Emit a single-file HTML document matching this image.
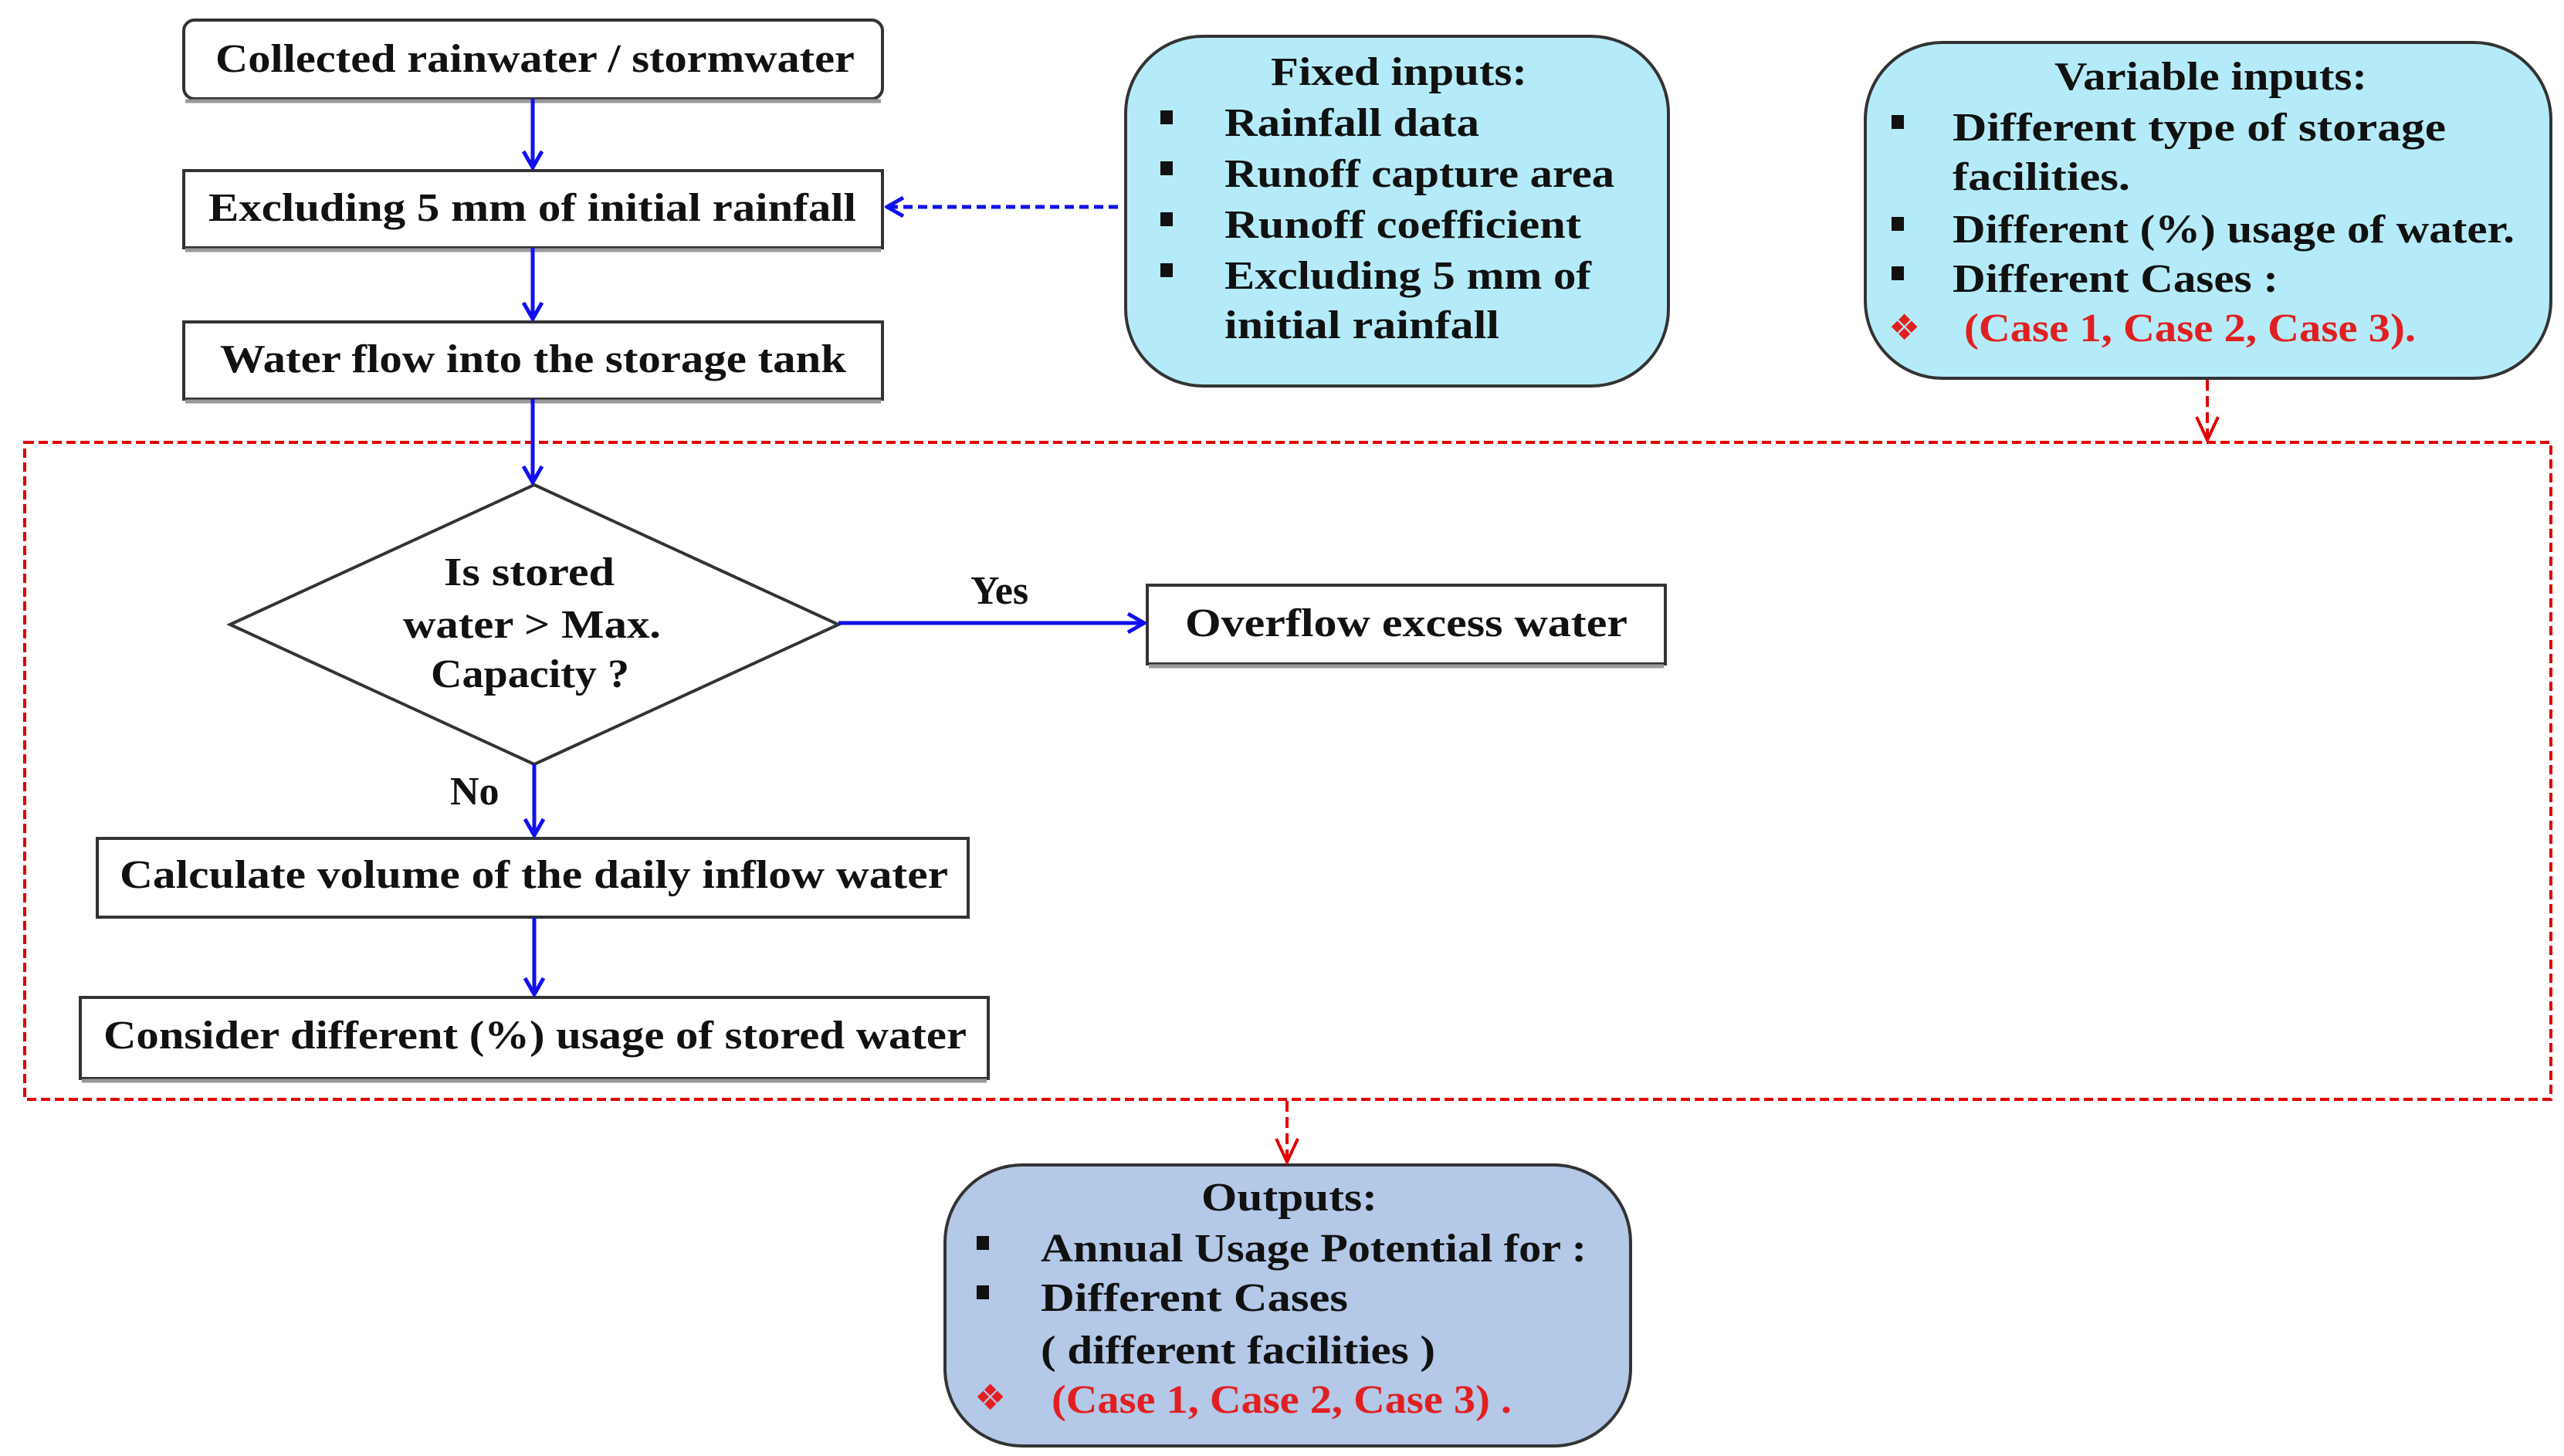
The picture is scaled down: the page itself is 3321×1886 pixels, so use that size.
<!DOCTYPE html>
<html><head><meta charset="utf-8"><style>html,body{margin:0;padding:0;background:#fff}svg{display:block}</style></head>
<body>
<svg width="3321" height="1886" viewBox="0 0 3321 1886" xmlns="http://www.w3.org/2000/svg" font-family="'Liberation Serif', serif" font-weight="bold" font-size="52">
<defs>
<marker id="ab" markerWidth="30" markerHeight="30" refX="27" refY="15" orient="auto" markerUnits="userSpaceOnUse" viewBox="0 0 30 30"><path d="M6,3 L27,15 L6,27" fill="none" stroke="#1010ee" stroke-width="5"/></marker>
</defs>
<g fill="#fff" stroke="#333" stroke-width="4">
<rect x="238" y="26" width="905" height="102" rx="14"/>
<rect x="238" y="221" width="905" height="100"/>
<rect x="238" y="417" width="905" height="100"/>
<rect x="1486" y="758" width="671" height="102"/>
<rect x="126" y="1086" width="1128" height="102"/>
<rect x="104" y="1292" width="1176" height="105"/>
<polygon points="298,809 692,628 1086,809 692,990"/>
</g>
<g stroke="#999" stroke-width="5">
<line x1="240" y1="131" x2="1141" y2="131"/><line x1="240" y1="324" x2="1141" y2="324"/><line x1="240" y1="520" x2="1141" y2="520"/>
<line x1="1488" y1="863" x2="2155" y2="863"/><line x1="106" y1="1400" x2="1278" y2="1400"/>
</g>
<rect x="1458" y="47" width="703" height="453" rx="100" fill="#b5ebf8" stroke="#333" stroke-width="4"/>
<rect x="2416" y="55" width="888" height="435" rx="100" fill="#b5ebf8" stroke="#333" stroke-width="4"/>
<rect x="1224" y="1509" width="888" height="364" rx="100" fill="#b4c8e8" stroke="#333" stroke-width="4"/>
<rect x="32" y="573" width="3272" height="851" fill="none" stroke="#e00000" stroke-width="4" stroke-dasharray="12,6"/>
<g stroke="#1010ee" stroke-width="5" fill="none" marker-end="url(#ab)">
<line x1="690" y1="128" x2="690" y2="217"/>
<line x1="690" y1="321" x2="690" y2="413"/>
<line x1="690" y1="517" x2="690" y2="625"/>
<line x1="692" y1="990" x2="692" y2="1082"/>
<line x1="692" y1="1188" x2="692" y2="1288"/>
<line x1="1086" y1="807" x2="1482" y2="807"/>
<line x1="1448" y1="268" x2="1149" y2="268" stroke-dasharray="12,7"/>
</g>
<g stroke="#e00000" stroke-width="4" fill="none">
<line x1="2859" y1="492" x2="2859" y2="570" stroke-dasharray="14,7"/>
<path d="M2845,540 L2859,570 L2873,540"/>
<line x1="1667" y1="1426" x2="1667" y2="1505" stroke-dasharray="14,7"/>
<path d="M1653,1475 L1667,1505 L1681,1475"/>
</g>
<g fill="#111">
<text x="279" y="93" textLength="828" lengthAdjust="spacingAndGlyphs">Collected rainwater / stormwater</text>
<text x="270" y="286" textLength="839" lengthAdjust="spacingAndGlyphs">Excluding 5 mm of initial rainfall</text>
<text x="285" y="482" textLength="811" lengthAdjust="spacingAndGlyphs">Water flow into the storage tank</text>
<text x="1535" y="824" textLength="573" lengthAdjust="spacingAndGlyphs">Overflow excess water</text>
<text x="155" y="1150" textLength="1073" lengthAdjust="spacingAndGlyphs">Calculate volume of the daily inflow water</text>
<text x="134" y="1358" textLength="1118" lengthAdjust="spacingAndGlyphs">Consider different (%) usage of stored water</text>
<text x="575" y="758" textLength="221" lengthAdjust="spacingAndGlyphs">Is stored</text>
<text x="522" y="826" textLength="334" lengthAdjust="spacingAndGlyphs">water &gt; Max.</text>
<text x="558" y="890" textLength="257" lengthAdjust="spacingAndGlyphs">Capacity ?</text>
<text x="1257" y="782">Yes</text>
<text x="583" y="1042">No</text>

<text x="1646" y="110" textLength="332" lengthAdjust="spacingAndGlyphs">Fixed inputs:</text>
<text x="1586" y="176" textLength="330" lengthAdjust="spacingAndGlyphs">Rainfall data</text>
<text x="1586" y="242" textLength="505" lengthAdjust="spacingAndGlyphs">Runoff capture area</text>
<text x="1586" y="308" textLength="462" lengthAdjust="spacingAndGlyphs">Runoff coefficient</text>
<text x="1586" y="374" textLength="475" lengthAdjust="spacingAndGlyphs">Excluding 5 mm of</text>
<text x="1586" y="438" textLength="356" lengthAdjust="spacingAndGlyphs">initial rainfall</text>

<text x="2661" y="116" textLength="405" lengthAdjust="spacingAndGlyphs">Variable inputs:</text>
<text x="2529" y="182" textLength="639" lengthAdjust="spacingAndGlyphs">Different type of  storage</text>
<text x="2529" y="246" textLength="230" lengthAdjust="spacingAndGlyphs">facilities.</text>
<text x="2529" y="314" textLength="728" lengthAdjust="spacingAndGlyphs">Different (%) usage of water.</text>
<text x="2529" y="378" textLength="422" lengthAdjust="spacingAndGlyphs">Different Cases :</text>

<text x="1556" y="1568" textLength="228" lengthAdjust="spacingAndGlyphs">Outputs:</text>
<text x="1348" y="1634" textLength="707" lengthAdjust="spacingAndGlyphs">Annual Usage Potential for :</text>
<text x="1348" y="1698" textLength="398" lengthAdjust="spacingAndGlyphs">Different Cases</text>
<text x="1348" y="1766" textLength="511" lengthAdjust="spacingAndGlyphs">( different facilities )</text>
</g>
<g fill="#111">
<rect x="1503" y="143" width="16" height="18"/><rect x="1503" y="209" width="16" height="18"/><rect x="1503" y="275" width="16" height="18"/><rect x="1503" y="341" width="16" height="18"/>
<rect x="2450" y="149" width="16" height="18"/><rect x="2450" y="281" width="16" height="18"/><rect x="2450" y="345" width="16" height="18"/>
<rect x="1265" y="1601" width="16" height="18"/><rect x="1265" y="1665" width="16" height="18"/>
</g>
<g fill="#e02020">
<text x="2544" y="442" textLength="585" lengthAdjust="spacingAndGlyphs">(Case 1, Case 2, Case 3).</text>
<text x="1362" y="1830" textLength="596" lengthAdjust="spacingAndGlyphs">(Case 1, Case 2, Case 3) .</text>
<text x="2446" y="440" font-family="'DejaVu Sans', sans-serif" font-size="46">❖</text>
<text x="1262" y="1826" font-family="'DejaVu Sans', sans-serif" font-size="46">❖</text>
</g>
</svg>
</body></html>
